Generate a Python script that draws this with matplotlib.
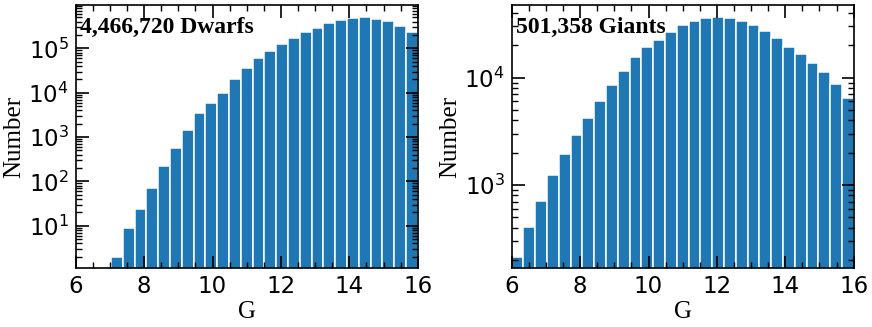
import numpy as np
import matplotlib
matplotlib.use("Agg")
import matplotlib.pyplot as plt
from matplotlib.ticker import LogLocator, MultipleLocator, NullFormatter

# G magnitude bins (29 bins between 6 and 16)
g_lo, g_hi, n_bins = 6, 16, 29

dwarf_counts = [0, 0, 0, 2, 9, 24, 70, 222, 556, 1466, 3480, 5960, 9670,
                20000, 36600, 59600, 87000, 125000, 171000, 230000, 292000,
                366000, 435000, 483000, 500000, 467000, 406000, 319000, 230000]
giant_counts = [212, 409, 710, 1240, 1945, 2944, 4210, 6025, 8550, 11600,
                15700, 19400, 22400, 26800, 31000, 33500, 36000, 36500, 36200,
                34000, 31200, 27000, 23200, 19400, 16500, 13800, 11300, 8670,
                6510]
labels = ["4,466,720 Dwarfs", "501,358 Giants"]
ylims = [(1.1, 9.5e5), (167, 47500)]

serif = ["Liberation Serif", "DejaVu Serif"]
plt.rcParams['font.family'] = ['DejaVu Sans']
plt.rcParams['mathtext.fontset'] = 'dejavusans'

fig = plt.figure(figsize=(8.72, 3.27), dpi=100)
W, H = 872, 327
boxes = [(75.7, 5, 342, 263.3), (511.7, 5, 342, 263.3)]

edges = np.linspace(g_lo, g_hi, n_bins + 1)

for box, counts, lab, yl in zip(boxes, [dwarf_counts, giant_counts], labels, ylims):
    x0, y0, w, h = box
    ax = fig.add_axes([x0 / W, 1 - (y0 + h) / H, w / W, h / H])
    ax.hist(edges[:-1], bins=edges, weights=counts, log=True,
            color='#1f77b4', edgecolor='white', linewidth=1.1)
    ax.set_xlim(g_lo, g_hi)
    ax.set_ylim(*yl)
    ax.xaxis.set_major_locator(MultipleLocator(2))
    ax.xaxis.set_minor_locator(MultipleLocator(0.5))
    ax.yaxis.set_major_locator(LogLocator(base=10))
    ax.yaxis.set_minor_locator(LogLocator(base=10, subs=np.arange(2, 10)))
    ax.yaxis.set_minor_formatter(NullFormatter())
    ax.tick_params(which='both', direction='in', top=True, right=True,
                   labelsize=16.5)
    ax.tick_params(which='major', length=9, width=1.2, pad=5)
    ax.tick_params(which='minor', length=4, width=1.0)
    for s in ax.spines.values():
        s.set_linewidth(1.2)
    ax.set_xlabel("G", family=serif, fontsize=18, labelpad=2)
    ax.set_ylabel("Number", family=serif, fontsize=18, labelpad=2)
    ax.text(0.012, 0.893, lab, transform=ax.transAxes, family=serif,
            fontweight='bold', fontsize=17, ha='left', va='baseline')

plt.savefig("out.png", dpi=100)
